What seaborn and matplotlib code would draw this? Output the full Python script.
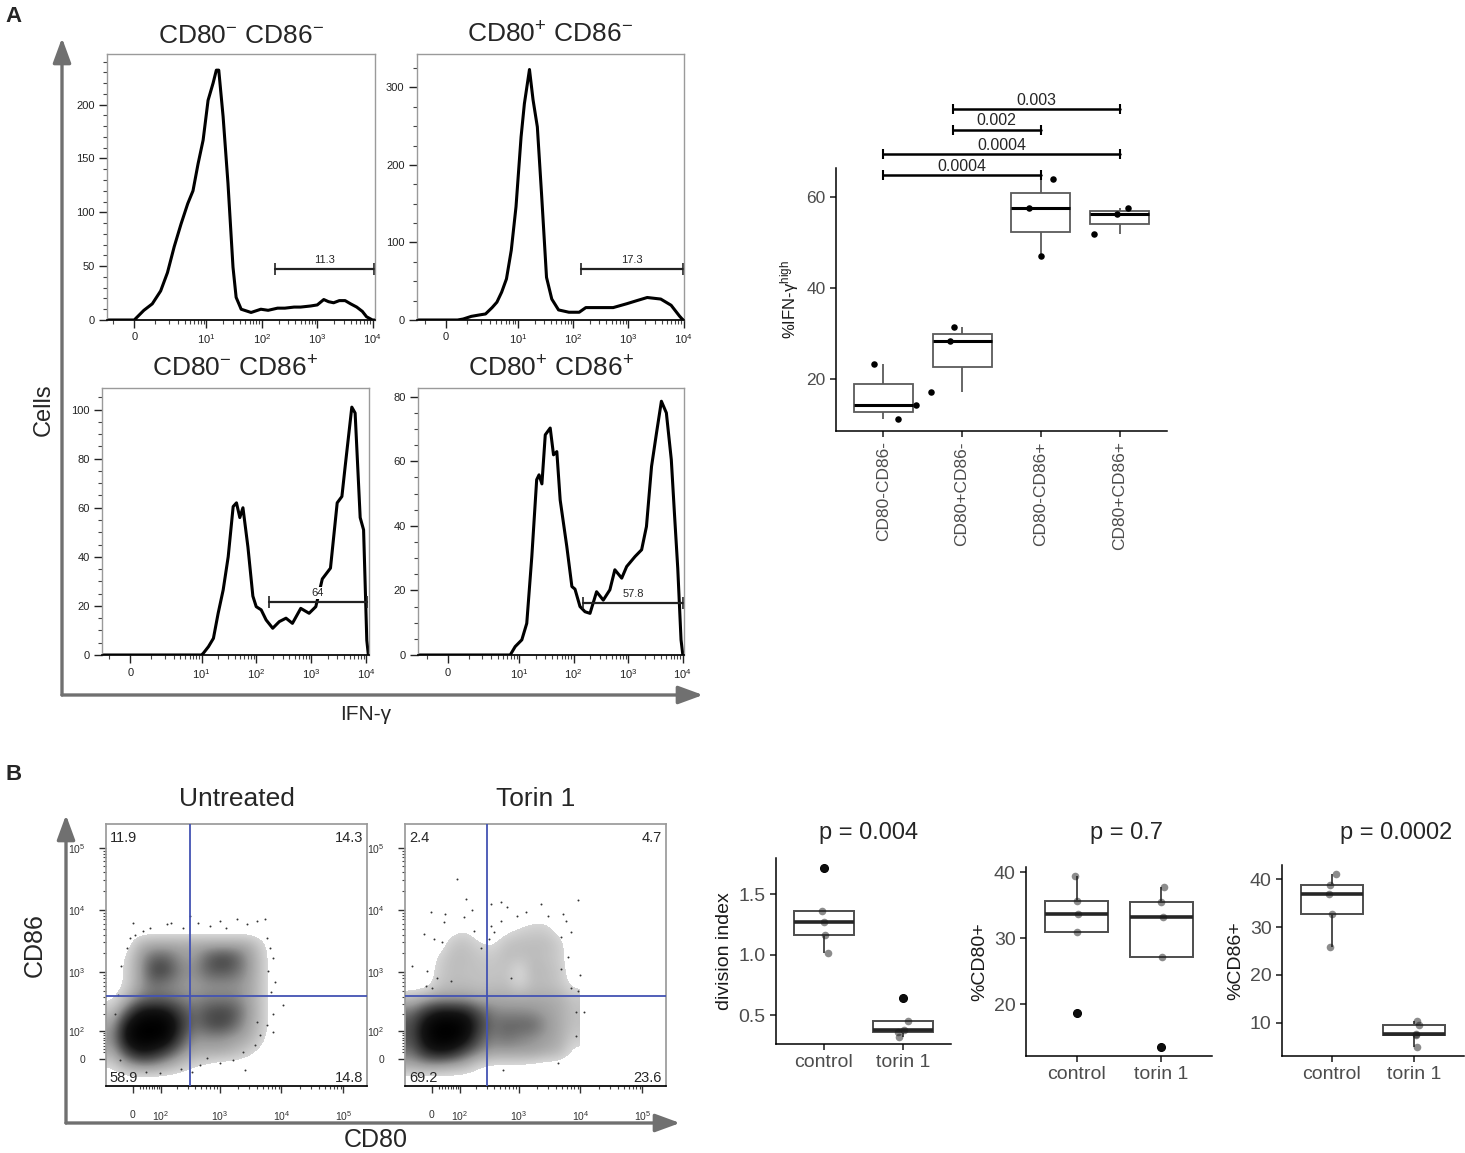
import numpy as np
import pandas as pd
import matplotlib
matplotlib.use('Agg')
import matplotlib.pyplot as plt
import seaborn as sns
from matplotlib.patches import FancyArrowPatch
from matplotlib.colors import LinearSegmentedColormap
from matplotlib.ticker import FixedLocator, MultipleLocator, NullFormatter

sns.set_theme(style='ticks')
plt.rcParams['font.family'] = ['Liberation Sans', 'DejaVu Sans']
plt.rcParams['mathtext.default'] = 'regular'

# ---------------- panel A: IFN-g histograms ----------------
hist_titles = [r'CD80$^{-}$ CD86$^{-}$', r'CD80$^{+}$ CD86$^{-}$',
               r'CD80$^{-}$ CD86$^{+}$', r'CD80$^{+}$ CD86$^{+}$']

h1_x = [-1.39, 0, 0.11, 0.41, 0.82, 1.33, 1.86, 2.53, 3.41, 4.55, 5.69, 7.04, 8.7, 10.7, 13.2,
        15.1, 16.7, 20.0, 24.5, 30.2, 34.4, 42.4, 64, 96, 130, 192, 260, 382, 500, 756, 1000,
        1310, 1600, 1970, 2500, 3180, 4000, 5150, 6500, 7750, 9900, 11000]
h1_y = [0, 0, 2.5, 9, 15, 27, 44, 68, 89, 108, 120, 145, 167, 204, 220,
        232, 232, 189, 127, 49, 21, 10, 7, 10, 9, 11, 11, 12, 12, 13, 14,
        19, 17, 16, 18, 18, 15, 12, 8, 3, 0, 0]

h2_x = [-1.53, 0.5, 0.78, 1.26, 1.88, 2.50, 3.34, 4.11, 5.04, 6.17, 7.56, 9.22, 11.4, 13.1, 16.2,
        18.8, 22.5, 26.8, 33.0, 41.1, 54.5, 84, 129, 170, 301, 532, 940, 1430, 2200, 3870,
        5960, 8470, 9800, 10200]
h2_y = [0, 0, 1.3, 4.7, 6.5, 7.8, 16, 23, 36, 53, 90, 146, 236, 279, 323,
        284, 249, 163, 55, 27, 13, 10, 10, 16, 16, 16, 21, 25, 29, 27,
        19, 5, 0, 0]

h3_x = [-1.49, 9.9, 10.7, 13.3, 16.4, 20.0, 24.7, 30.5, 37.6, 43.2, 49.7, 56.7, 69.9, 86, 99,
        122, 150, 198, 261, 346, 453, 643, 913, 1210, 1590, 2240, 2970, 3620, 4160, 5490,
        6310, 7800, 9000, 10300, 11000]
h3_y = [0, 0, 0.7, 3.4, 6.8, 17, 26.5, 40, 60.5, 62, 56, 60, 44, 24, 19.7,
        18.4, 14.3, 10.9, 13.6, 15, 12.9, 19, 17, 19.7, 31, 35.4, 62, 64.6, 77, 101,
        98.6, 56, 51, 6, 0]

h4_x = [-1.65, 6.83, 8.44, 11.2, 13.8, 17.1, 21.0, 23.2, 26.2, 30.2, 37.2, 42.8, 49.2, 56.7, 75,
        93, 106, 131, 162, 200, 264, 350, 463, 571, 763, 941, 1340, 1770, 2170, 2690,
        3320, 4080, 5030, 6200, 7070, 8140, 9350, 10100]
h4_y = [0, 0, 2.6, 4.7, 9.8, 30.5, 54.3, 55.8, 53, 68.2, 70.3, 62, 63, 48, 33.6,
        21.2, 20.4, 15, 13.4, 12.9, 19.6, 17, 20.2, 26.4, 23.8, 27.4, 30.5, 32.6, 39.8, 58.4,
        68.8, 78.6, 75, 60.5, 44, 26.9, 4.7, 0]

hist_x = [h1_x, h2_x, h3_x, h4_x]
hist_y = [h1_y, h2_y, h3_y, h4_y]
hist_ytop = [247, 343, 108.8, 82.7]
hist_xlim = [(-1.39, 11000), (-1.53, 10200), (-1.49, 11300), (-1.65, 10600)]
hist_yticks = [[0, 50, 100, 150, 200], [0, 100, 200, 300], [0, 20, 40, 60, 80, 100], [0, 20, 40, 60, 80]]
hist_yminor = [10, 25, 5, 5]

gate_lo = [172, 138, 168, 151]
gate_hi = [10400, 9700, 10300, 10100]
gate_y = [47.5, 66, 21.4, 16.2]
gate_text = ['11.3', '17.3', '64', '57.8']

ifn_xticks = [0, 10, 100, 1000, 10000]
ifn_xlabels = ['0', '$10^{1}$', '$10^{2}$', '$10^{3}$', '$10^{4}$']
ifn_xminor = [-1, 1] + [m * 10 ** k for k in range(0, 4) for m in range(2, 10)]

# ---------------- panel A: %IFN-g high boxplot ----------------
ifn_groups = ['CD80-CD86-', 'CD80+CD86-', 'CD80-CD86+', 'CD80+CD86+']
ifn_vals = [[11.2, 14.4, 23.4], [17.2, 28.3, 31.4], [47.0, 57.7, 64.0], [51.9, 56.3, 57.7]]
ifn_jit = [[0.19, 0.41, -0.12], [-0.39, -0.15, -0.10], [0.0, -0.15, 0.15], [-0.32, -0.03, 0.10]]
sig_pairs = [(0, 2), (0, 3), (0.88, 2), (0.88, 3)]
sig_y = [64.8, 69.5, 74.8, 79.3]
sig_text = ['0.0004', '0.0004', '0.002', '0.003']

# ---------------- panel B: CD80 / CD86 density plots ----------------
dens_titles = ['Untreated', 'Torin 1']
# rows from CD86 (asinh units) 5.25 down to -0.75, columns CD80 -0.75 .. 5.25, step 0.5
dens_untreated = [
    [0, 0, 0, 0, 0, 0, 0, 0, 0, 0, 0, 0, 0],
    [0, 0, 0, 0, 0, 0, 0, 0, 0, 0, 0, 0, 0],
    [0, 0, 0.25, 0.3, 0.3, 0.3, 0.3, 0.3, 0.3, 0.3, 0.3, 0.15, 0],
    [0, 0.1, 0.35, 0.55, 0.55, 0.4, 0.35, 0.55, 0.65, 0.6, 0.4, 0.2, 0],
    [0, 0.12, 0.35, 0.65, 0.65, 0.45, 0.4, 0.55, 0.6, 0.55, 0.4, 0.2, 0],
    [0, 0.12, 0.35, 0.5, 0.45, 0.4, 0.35, 0.4, 0.4, 0.4, 0.35, 0.2, 0],
    [0.05, 0.25, 0.45, 0.5, 0.5, 0.45, 0.4, 0.45, 0.45, 0.45, 0.35, 0.2, 0],
    [0.2, 0.55, 0.85, 0.9, 0.85, 0.65, 0.5, 0.6, 0.65, 0.6, 0.4, 0.2, 0],
    [0.35, 0.85, 1, 1, 1, 0.75, 0.5, 0.6, 0.65, 0.55, 0.35, 0.2, 0],
    [0.4, 0.9, 1, 1, 0.95, 0.65, 0.4, 0.4, 0.4, 0.35, 0.3, 0.15, 0],
    [0.3, 0.65, 0.85, 0.8, 0.65, 0.45, 0.3, 0.3, 0.3, 0.25, 0.15, 0.05, 0],
    [0.1, 0.3, 0.4, 0.4, 0.3, 0.2, 0.1, 0.05, 0, 0, 0, 0, 0],
    [0, 0, 0, 0, 0, 0, 0, 0, 0, 0, 0, 0, 0],
]
dens_torin = [
    [0, 0, 0, 0, 0, 0, 0, 0, 0, 0.05, 0.05, 0, 0],
    [0, 0, 0, 0.05, 0.1, 0, 0, 0.05, 0.12, 0.15, 0.15, 0.05, 0],
    [0, 0, 0, 0.18, 0.2, 0.12, 0.07, 0.2, 0.22, 0.22, 0.22, 0.15, 0],
    [0, 0, 0.12, 0.22, 0.22, 0.18, 0.16, 0.22, 0.2, 0.22, 0.2, 0.15, 0],
    [0, 0, 0.15, 0.22, 0.2, 0.2, 0.18, 0.2, 0.05, 0.25, 0.22, 0.18, 0],
    [0, 0, 0.18, 0.22, 0.22, 0.2, 0.2, 0.22, 0.1, 0.22, 0.22, 0.18, 0.05],
    [0.2, 0.3, 0.35, 0.35, 0.35, 0.3, 0.3, 0.3, 0.3, 0.3, 0.3, 0.28, 0.18],
    [0.5, 0.7, 0.85, 0.85, 0.8, 0.6, 0.45, 0.42, 0.42, 0.4, 0.35, 0.3, 0.2],
    [0.6, 0.9, 1, 1, 0.95, 0.7, 0.5, 0.55, 0.55, 0.55, 0.4, 0.3, 0.2],
    [0.6, 0.9, 1, 1, 0.9, 0.6, 0.45, 0.5, 0.45, 0.4, 0.35, 0.3, 0.15],
    [0.5, 0.75, 0.85, 0.8, 0.6, 0.45, 0.35, 0.35, 0.35, 0.35, 0.3, 0.25, 0.05],
    [0.3, 0.35, 0.35, 0.3, 0.25, 0.1, 0.05, 0.05, 0.05, 0.03, 0, 0, 0],
    [0, 0, 0, 0, 0, 0, 0, 0, 0, 0, 0, 0, 0],
]
dens_grids = [dens_untreated, dens_torin]

# sparse events outside the density contour (CD80, CD86 intensity)
ev_untreated_x = [1, 31, 54, 128, 157, 250, 450, 690, 1290, 1880, 2740, 3970, 5400, 5740, 6500,
                  7390, 6100, 7850, 6900, 10700, 7390, 5740, 4480, 3750, 2420, 1670, 2560, 1010,
                  480, 350, 230, 94, 42, -40, -58, -46, -35, -19, -9, 6, 330, 1010, 3970, 7390, 620]
ev_untreated_y = [6190, 4530, 5160, 5820, 6190, 5160, 6190, 5480, 5160, 7040, 5820, 6630, 7040,
                  3560, 2440, 1680, 1030, 700, 480, 290, 205, 130, 81, 43, 22, -3, -34, -13,
                  -18, -39, -29, -44, -39, -3, 205, 425, 1230, 2440, 3560, 4000, 7940, 6630,
                  150, 96, 2]
ev_torin_x = [88, 130, -4, 42, 170, 37, 120, -24, 6, 32, -64, -14, 16, 61, -19, 1, 350, 515, 660,
              350, 400, 330, 960, 1320, 2300, 2950, 5150, 9050, 5870, 7030, 4860, 6220, 4860,
              9700, 7030, 9050, 8540, 11600, 8540, 4300, 550, 240, 185, 515, 750]
ev_torin_y = [31800, 15100, 9200, 8600, 9800, 6300, 7600, 4100, 3380, 3000, 1250, 1040, 810, 710,
              590, 555, 12600, 13300, 11000, 5570, 4350, 3380, 8100, 9200, 12600, 8100, 8600,
              14200, 6700, 4350, 3600, 1720, 1100, 910, 555, 490, 220, 220, 75, -13, -34, 2480,
              4600, 6700, 810]
ev_x = [ev_untreated_x, ev_torin_x]
ev_y = [ev_untreated_y, ev_torin_y]

quad_gate_x = [329, 302]
quad_gate_y = [403, 403]
quad_text = [['11.9', '14.3', '58.9', '14.8'], ['2.4', '4.7', '69.2', '23.6']]
flow_ticks = [0, 100, 1000, 10000, 100000]
flow_labels = ['0', '$10^{2}$', '$10^{3}$', '$10^{4}$', '$10^{5}$']
flow_minor = [m * 10 ** k for k in range(1, 5) for m in range(2, 10)]
FLOW_C = 80.0

# ---------------- panel B: summary boxplots ----------------
b_groups = ['control', 'torin 1']
div_vals = [[1.01, 1.16, 1.27, 1.36, 1.72], [0.32, 0.36, 0.38, 0.45, 0.64]]
div_jit = [[0.05, 0.01, 0.0, -0.02, 0.0], [-0.05, -0.07, 0.01, 0.055, 0.0]]
cd80_vals = [[18.7, 30.9, 33.7, 35.7, 39.5], [13.5, 27.2, 33.2, 35.5, 37.8]]
cd80_jit = [[0.0, 0.0, 0.01, 0.0, -0.02], [0.0, 0.01, 0.02, 0.0, 0.03]]
cd86_vals = [[25.9, 32.7, 37.0, 38.8, 41.1], [4.9, 7.3, 7.6, 9.5, 10.3]]
cd86_jit = [[-0.02, 0.01, -0.03, -0.02, 0.05], [0.03, 0.02, 0.02, 0.06, 0.03]]
b_vals = [div_vals, cd80_vals, cd86_vals]
b_jit = [div_jit, cd80_jit, cd86_jit]
b_ylabels = ['division index', '%CD80+', '%CD86+']
b_titles = ['p = 0.004', 'p = 0.7', 'p = 0.0002']
b_ylims = [(0.26, 1.80), (12.2, 40.8), (3.0, 43.0)]
b_yticks = [[0.5, 1.0, 1.5], [20, 30, 40], [10, 20, 30, 40]]

# ---------------- figure ----------------
W, H = 1465, 1153
fig = plt.figure(figsize=(W / 100, H / 100), dpi=100)


def px_axes(x0, y0, x1, y1):
    return fig.add_axes([x0 / W, 1 - y1 / H, (x1 - x0) / W, (y1 - y0) / H])


def fig_text(x, y, s, **kw):
    fig.text(x / W, 1 - y / H, s, ha=kw.pop('ha', 'center'), va=kw.pop('va', 'center'), **kw)


def fig_arrow(p0, p1):
    fig.add_artist(FancyArrowPatch((p0[0] / W, 1 - p0[1] / H), (p1[0] / W, 1 - p1[1] / H),
                                   transform=fig.transFigure, arrowstyle='-|>,head_length=1.5,head_width=0.55',
                                   mutation_scale=10, lw=2.4, color='#707070', shrinkA=0, shrinkB=0))


flow_gray = '#9a9a9a'

# histograms
hist_boxes = [(107, 54, 375, 320), (417, 54, 684, 320), (102, 388, 369, 655), (418, 388, 684, 655)]
for i in range(4):
    ax = px_axes(*hist_boxes[i])
    ax.set_xscale('function', functions=(np.arcsinh, np.sinh))
    sns.lineplot(x=hist_x[i], y=hist_y[i], sort=False, estimator=None, color='black', lw=2.2, ax=ax)
    ax.plot([gate_lo[i], gate_hi[i]], [gate_y[i], gate_y[i]], color='#222222', lw=1.6,
            marker='|', ms=8, mew=1.2)
    mid = np.sinh((np.arcsinh(gate_lo[i]) + np.arcsinh(gate_hi[i])) / 2)
    ax.annotate(gate_text[i], xy=(mid, gate_y[i]), xytext=(0, 3), textcoords='offset points',
                ha='center', va='bottom', fontsize=8, zorder=5,
                bbox=dict(boxstyle='square,pad=0.1', fc='white', ec='none'))
    ax.set_xlim(*hist_xlim[i])
    ax.set_ylim(0, hist_ytop[i])
    ax.set_xticks(ifn_xticks, ifn_xlabels)
    ax.xaxis.set_minor_locator(FixedLocator(ifn_xminor))
    ax.xaxis.set_minor_formatter(NullFormatter())
    ax.set_yticks(hist_yticks[i])
    ax.yaxis.set_minor_locator(MultipleLocator(hist_yminor[i]))
    ax.tick_params(which='major', length=6, width=1, labelsize=8, colors='#222222', pad=3)
    ax.tick_params(which='minor', length=3, width=0.8, colors='#444444')
    for s in ['top', 'right', 'left']:
        ax.spines[s].set_color(flow_gray)
        ax.spines[s].set_linewidth(1)
    ax.spines['bottom'].set_color('black')
    ax.set_xlabel('')
    ax.set_ylabel('')
    ax.set_title(hist_titles[i], fontsize=19, pad=8)

fig_arrow((62, 695), (62, 38))
fig_arrow((62, 695), (703, 695))
fig_text(44, 410, 'Cells', rotation=90, fontsize=17)
fig_text(366, 714, 'IFN-γ', fontsize=15)
fig_text(14, 17, 'A', fontsize=16, fontweight='bold')
fig_text(14, 775, 'B', fontsize=16, fontweight='bold')

# %IFN-g high boxplot
axA = px_axes(836, 168, 1167, 431)
ifn_df = pd.DataFrame({'group': np.repeat(ifn_groups, 3), 'value': np.concatenate(ifn_vals)})
sns.boxplot(data=ifn_df, x='group', y='value', order=ifn_groups, width=0.75, color='white',
            saturation=1, linecolor='#5a5a5a', linewidth=1.3, showfliers=False, showcaps=False,
            medianprops=dict(color='black', linewidth=2.2), ax=axA)
pos = np.concatenate([np.arange(4)[k] + np.array(ifn_jit[k]) for k in range(4)])
axA.scatter(pos, np.concatenate(ifn_vals), s=22, color='black', linewidths=0, zorder=4)
for (a, b), y, t in zip(sig_pairs, sig_y, sig_text):
    axA.plot([a, b], [y, y], color='black', lw=1.8, marker='|', ms=7, mew=1.5, clip_on=False)
    axA.annotate(t, xy=((a + b) / 2, y), xytext=(0, 1), textcoords='offset points',
                 ha='center', va='bottom', fontsize=11.5, annotation_clip=False)
axA.set_xlim(-0.6, 3.6)
axA.set_ylim(8.6, 66.4)
axA.set_yticks([20, 40, 60])
axA.set_xlabel('')
axA.set_ylabel('%IFN-γ$^{high}$', fontsize=12, color='#1a1a1a')
axA.tick_params(axis='x', labelrotation=90)
axA.tick_params(labelsize=12.5, labelcolor='#4d4d4d', color='#333333', length=4)
sns.despine(ax=axA)
for s in ['left', 'bottom']:
    axA.spines[s].set_color('black')
    axA.spines[s].set_linewidth(1.1)

# density plots
cmap = LinearSegmentedColormap.from_list('flowgray', [(0, '#d6d6d6'), (0.3, '#9c9c9c'),
                                                       (0.55, '#525252'), (0.8, '#151515'),
                                                       (1, '#000000')])
cmap.set_under((1, 1, 1, 0))
cmap.set_over('black')
dens_boxes = [(106, 824, 367, 1086), (405, 824, 666, 1086)]
ft = np.arcsinh(np.array(flow_ticks) / FLOW_C)
fm_ = np.arcsinh(np.array(flow_minor) / FLOW_C)
for i in range(2):
    ax = px_axes(*dens_boxes[i])
    ax.imshow(np.array(dens_grids[i]), extent=(-1.0, 5.5, -1.0, 5.5), origin='upper', aspect='auto',
              interpolation='bicubic', interpolation_stage='data', cmap=cmap, vmin=0.1, vmax=1.0, zorder=1)
    ax.scatter(np.arcsinh(np.array(ev_x[i]) / FLOW_C), np.arcsinh(np.array(ev_y[i]) / FLOW_C),
               s=2, color='#333333', linewidths=0, zorder=2)
    ax.axvline(np.arcsinh(quad_gate_x[i] / FLOW_C), color='#4353b3', lw=1.3, zorder=3)
    ax.axhline(np.arcsinh(quad_gate_y[i] / FLOW_C), color='#4353b3', lw=1.3, zorder=3)
    q = quad_text[i]
    ax.text(0.015, 0.945, q[0], transform=ax.transAxes, ha='left', va='center', fontsize=10.5)
    ax.text(0.985, 0.945, q[1], transform=ax.transAxes, ha='right', va='center', fontsize=10.5)
    ax.text(0.015, 0.03, q[2], transform=ax.transAxes, ha='left', va='center', fontsize=10.5)
    ax.text(0.985, 0.03, q[3], transform=ax.transAxes, ha='right', va='center', fontsize=10.5)
    ax.set_xlim(-1.0, 8.7)
    ax.set_ylim(-1.0, 8.7)
    ax.set_xticks(ft, flow_labels)
    ax.set_yticks(ft, flow_labels)
    ax.xaxis.set_minor_locator(FixedLocator(fm_))
    ax.yaxis.set_minor_locator(FixedLocator(fm_))
    ax.tick_params(which='major', length=5, width=1, labelsize=7.5, colors='#333333')
    ax.tick_params(axis='x', which='major', pad=12)
    ax.tick_params(axis='y', which='major', pad=10)
    ax.tick_params(which='minor', length=2.5, width=0.8, colors='#444444')
    for s in ['top', 'right', 'left']:
        ax.spines[s].set_color(flow_gray)
    ax.spines['bottom'].set_color('black')
    ax.set_title(dens_titles[i], fontsize=19, pad=13)

fig_arrow((66, 1123), (66, 815))
fig_arrow((66, 1123), (680, 1123))
fig_text(35, 945, 'CD86', rotation=90, fontsize=18)
fig_text(376, 1140, 'CD80', fontsize=18)

# summary boxplots
b_boxes = [(776, 858, 951, 1044), (1026, 867, 1212, 1056), (1282, 865, 1464, 1056)]
b_title_x = [869, 1126, 1396]
for i in range(3):
    ax = px_axes(*b_boxes[i])
    df = pd.DataFrame({'group': np.repeat(b_groups, 5), 'value': np.concatenate(b_vals[i])})
    sns.boxplot(data=df, x='group', y='value', order=b_groups, width=0.75, color='white',
                saturation=1, linecolor='#4d4d4d', linewidth=1.4, showcaps=False,
                medianprops=dict(color='#262626', linewidth=2.6),
                flierprops=dict(marker='o', markerfacecolor='black', markeredgecolor='black', markersize=5.5),
                ax=ax)
    pos = np.concatenate([np.arange(2)[k] + np.array(b_jit[i][k]) for k in range(2)])
    ax.scatter(pos, np.concatenate(b_vals[i]), s=30, color='#1a1a1a', alpha=0.5, linewidths=0, zorder=4)
    ax.set_xlim(-0.6, 1.6)
    ax.set_ylim(*b_ylims[i])
    ax.set_yticks(b_yticks[i])
    ax.set_xlabel('')
    ax.set_ylabel(b_ylabels[i], fontsize=14, color='#1a1a1a')
    ax.tick_params(labelsize=14, labelcolor='#4d4d4d', color='#333333', length=4)
    sns.despine(ax=ax)
    for s in ['left', 'bottom']:
        ax.spines[s].set_color('black')
        ax.spines[s].set_linewidth(1.1)
    fig_text(b_title_x[i], 833, b_titles[i], fontsize=17)

fig.savefig('out.png', dpi=100)
